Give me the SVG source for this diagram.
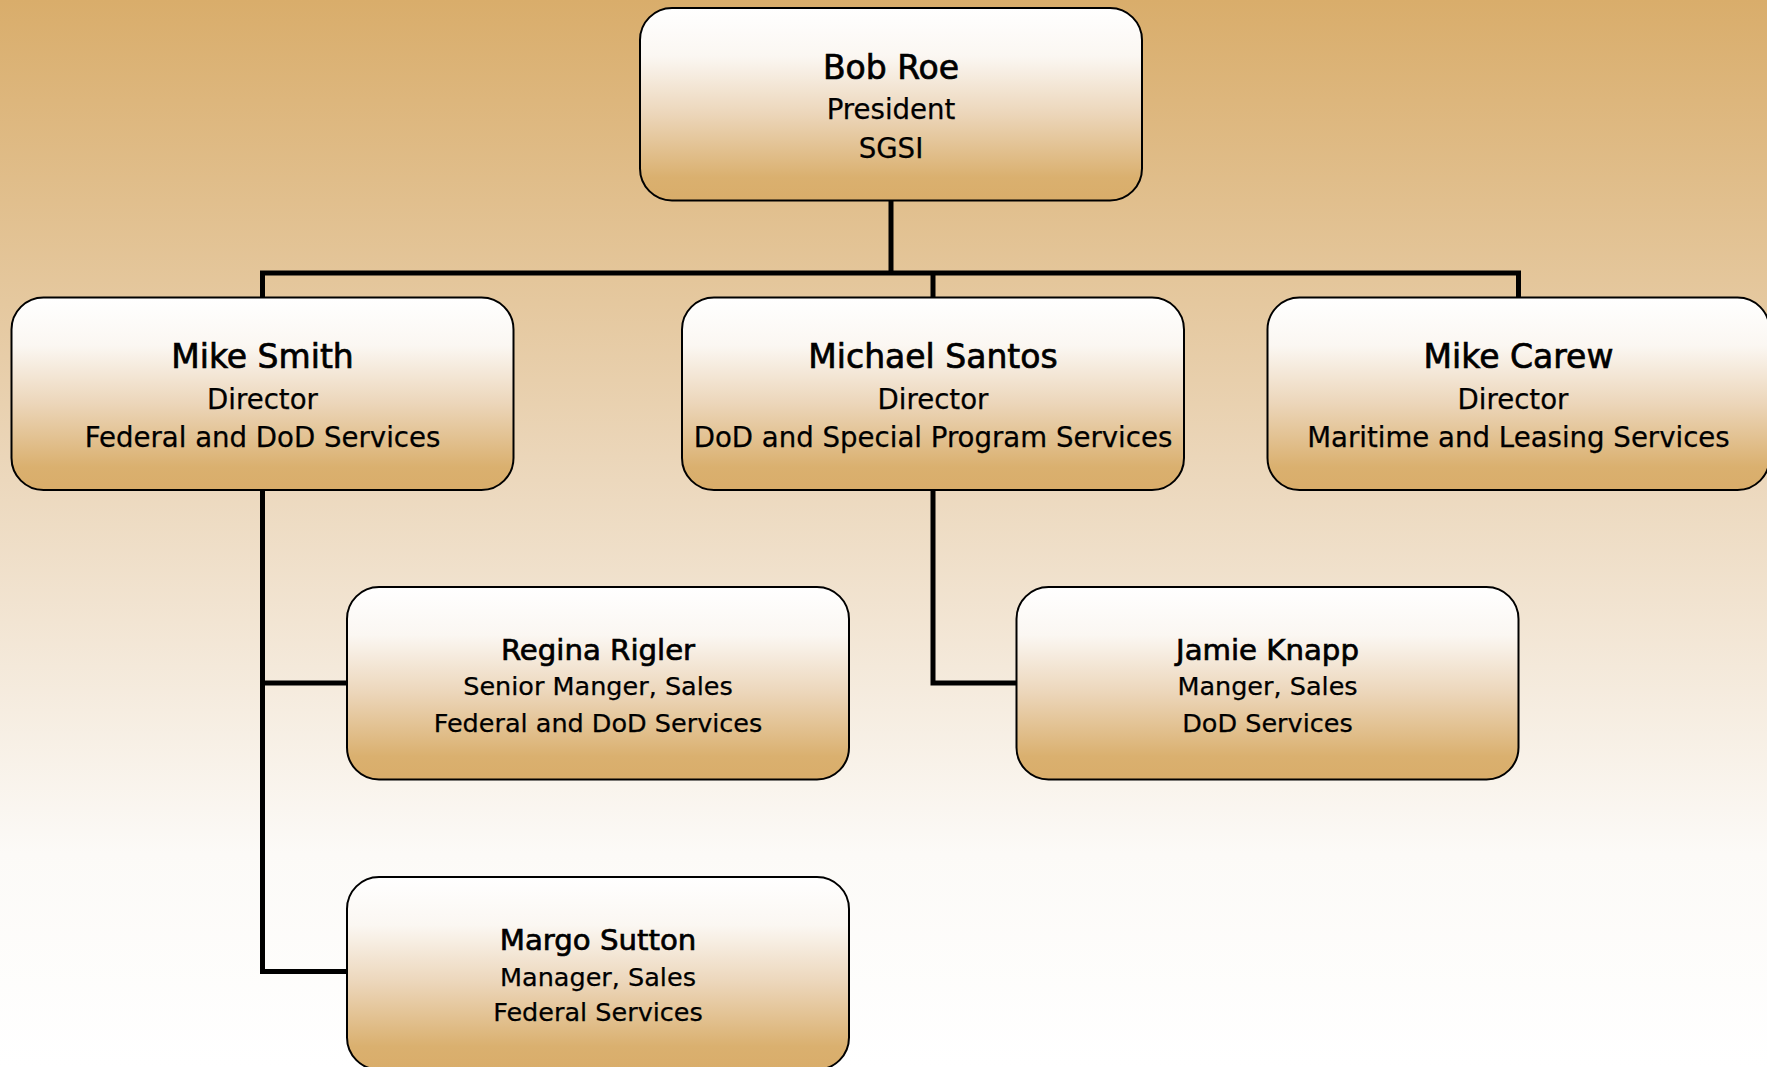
<svg xmlns="http://www.w3.org/2000/svg" width="1767" height="1067" viewBox="0 0 1767 1067">
<defs>
<linearGradient id="bg" x1="0" y1="0" x2="0" y2="1">
<stop offset="0" stop-color="#d9ad6b"/>
<stop offset="0.45" stop-color="#ecd8bd"/>
<stop offset="0.8" stop-color="#fcfaf7"/>
<stop offset="1" stop-color="#ffffff"/>
</linearGradient>
<linearGradient id="box" x1="0" y1="0" x2="0" y2="1">
<stop offset="0" stop-color="#ffffff"/>
<stop offset="0.25" stop-color="#fbf7f2"/>
<stop offset="0.55" stop-color="#ecd6ba"/>
<stop offset="0.88" stop-color="#dab06f"/>
<stop offset="1" stop-color="#d9ad6a"/>
</linearGradient>
<style>
.node rect{fill:url(#box);stroke:#000;stroke-width:2}
.name{font-family:"DejaVu Sans",Verdana,sans-serif;font-size:33px;fill:#000;stroke:#000;stroke-width:0.7;text-anchor:middle}
.sub{font-family:"DejaVu Sans",Verdana,sans-serif;font-size:27.6px;fill:#000;stroke:#000;stroke-width:0.25;text-anchor:middle}
.name2{font-family:"DejaVu Sans",Verdana,sans-serif;font-size:29.2px;fill:#000;stroke:#000;stroke-width:0.7;text-anchor:middle}
.sub2{font-family:"DejaVu Sans",Verdana,sans-serif;font-size:25.5px;fill:#000;stroke:#000;stroke-width:0.25;text-anchor:middle}
.conn path{fill:none;stroke:#000;stroke-width:5;stroke-linejoin:miter;stroke-linecap:butt}
</style>
</defs>
<rect x="0" y="0" width="1767" height="1067" fill="url(#bg)"/>
<g id="connectors" class="conn">
<path d="M891,200 V273"/>
<path d="M260,273 H1521"/>
<path d="M262.5,273 V297.5"/>
<path d="M933,273 V297.5"/>
<path d="M1518.5,273 V297.5"/>
<path d="M262.5,490 V971.5 H347"/>
<path d="M262.5,683 H347"/>
<path d="M933,490 V683 H1016.5"/>
</g>
<g id="bob-roe" class="node">
<rect x="640" y="8" width="502" height="192.5" rx="32" ry="32"/>
<text class="name" x="891" y="78.5">Bob Roe</text>
<text class="sub" x="891" y="118.5">President</text>
<text class="sub" x="891" y="158">SGSI</text>
</g>
<g id="mike-smith" class="node">
<rect x="11.5" y="297.5" width="502" height="192.5" rx="32" ry="32"/>
<text class="name" x="262.5" y="368">Mike Smith</text>
<text class="sub" x="262.5" y="409">Director</text>
<text class="sub" x="262.5" y="447">Federal and DoD Services</text>
</g>
<g id="michael-santos" class="node">
<rect x="682" y="297.5" width="502" height="192.5" rx="32" ry="32"/>
<text class="name" x="933" y="368">Michael Santos</text>
<text class="sub" x="933" y="409">Director</text>
<text class="sub" x="933" y="447">DoD and Special Program Services</text>
</g>
<g id="mike-carew" class="node">
<rect x="1267.5" y="297.5" width="502" height="192.5" rx="32" ry="32"/>
<text class="name" x="1518.5" y="368">Mike Carew</text>
<text class="sub" x="1513" y="409">Director</text>
<text class="sub" x="1518.5" y="447">Maritime and Leasing Services</text>
</g>
<g id="regina-rigler" class="node">
<rect x="347" y="587" width="502" height="192.5" rx="32" ry="32"/>
<text class="name2" x="598" y="659.5">Regina Rigler</text>
<text class="sub2" x="598" y="695">Senior Manger, Sales</text>
<text class="sub2" x="598" y="731.5">Federal and DoD Services</text>
</g>
<g id="jamie-knapp" class="node">
<rect x="1016.5" y="587" width="502" height="192.5" rx="32" ry="32"/>
<text class="name2" x="1267.5" y="659.5">Jamie Knapp</text>
<text class="sub2" x="1267.5" y="695">Manger, Sales</text>
<text class="sub2" x="1267.5" y="731.5">DoD Services</text>
</g>
<g id="margo-sutton" class="node">
<rect x="347" y="877" width="502" height="192.5" rx="32" ry="32"/>
<text class="name2" x="598" y="950">Margo Sutton</text>
<text class="sub2" x="598" y="986">Manager, Sales</text>
<text class="sub2" x="598" y="1021">Federal Services</text>
</g>
</svg>
